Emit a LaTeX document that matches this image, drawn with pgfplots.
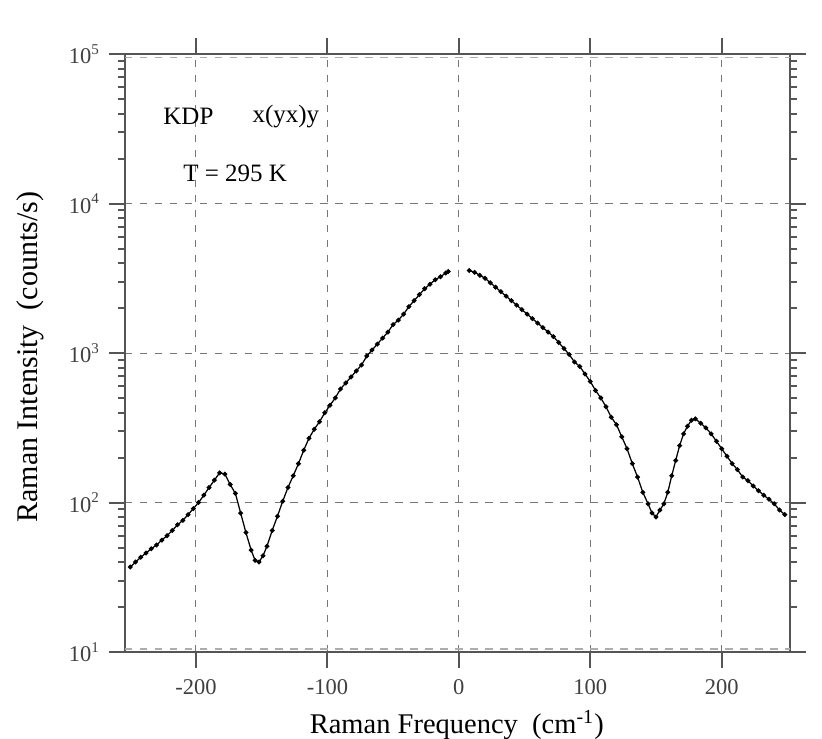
\documentclass[border=0pt]{standalone}
\usepackage{pgfplots}
\pgfplotsset{compat=1.18}
\usepackage{fontspec}
\setmainfont{Liberation Serif}

\definecolor{frame}{HTML}{555555}
\definecolor{gridc}{HTML}{777777}

\begin{document}
\begin{tikzpicture}
\begin{axis}[
    scale only axis,
    width=266pt, height=239.2pt,
    xmin=-254, xmax=252,
    ymode=log, ymin=10, ymax=100000,
    xtick={-200,-100,0,100,200},
    ytick={10,100,1000,10000,100000},
    yticklabels={10\textsuperscript{1},10\textsuperscript{2},10\textsuperscript{3},10\textsuperscript{4},10\textsuperscript{5}},
    /pgf/number format/assume math mode=true,
    tick align=outside,
    major tick length=6.4pt,
    minor tick length=2.8pt,
    tick style={frame, line width=0.8pt},
    axis line style={frame, line width=1pt},
    grid=major,
    major grid style={gridc, dashed, line width=0.4pt},
    ticklabel style={font=\small, text=black!75},
    xticklabel style={yshift=-1pt},
    every axis x label/.style={at={(rel axis cs:0.499,0)}, anchor=base, yshift=-32.4pt, font=\fontsize{11.4}{13}\selectfont},
    every axis y label/.style={at={(rel axis cs:0,0.493)}, anchor=center, xshift=-38pt, rotate=90, font=\fontsize{12}{14}\selectfont},
    xlabel={Raman Frequency\ \ (cm\textsuperscript{-1})},
    ylabel={Raman Intensity\ \ (counts/s)},
]
\coordinate (ll) at (rel axis cs:0,0);
\draw[gridc!60, dashed, line width=0.6pt] ([yshift=-1.3pt]rel axis cs:0,1) -- ([yshift=-1.3pt, xshift=7pt]rel axis cs:1,1);
\draw[gridc!60, dashed, line width=0.6pt] ([yshift=1.3pt]rel axis cs:0,0) -- ([yshift=1.3pt, xshift=7pt]rel axis cs:1,0);
\addplot[black, line width=0.5pt, mark=*, mark size=0.7pt] coordinates {
(-250,37) (-246,40) (-242,43) (-238,46) (-234,49) (-230,52) (-226,56)
(-222,60) (-218,65) (-214,71) (-210,76) (-206,83) (-202,91) (-198,100)
(-194,112) (-190,126) (-186,141) (-182,158) (-178,155) (-174,132)
(-170,115) (-166,85) (-162,63) (-158,48) (-155,41) (-152,40) (-149,44)
(-146,51) (-142,65) (-138,81) (-134,102) (-130,126) (-126,151) (-122,182)
(-118,224) (-114,269) (-110,309) (-106,347) (-102,398) (-98,447)
(-94,501) (-90,575) (-86,631) (-82,692) (-78,759) (-74,832) (-70,955)
(-66,1047) (-62,1148) (-58,1259) (-54,1380) (-50,1549) (-46,1660)
(-42,1820) (-38,2042) (-34,2239) (-30,2455) (-26,2692) (-22,2884)
(-18,3090) (-14,3236) (-10,3428) (-8,3508)
};
\addplot[black, line width=0.5pt, mark=*, mark size=0.7pt] coordinates {
(8,3565) (12,3467) (16,3311) (20,3162) (24,2951) (28,2754) (32,2570)
(36,2399) (40,2239) (44,2089) (48,1950) (52,1820) (56,1698) (60,1585)
(64,1479) (68,1380) (72,1288) (76,1175) (80,1072) (84,977) (88,871)
(92,813) (96,724) (100,646) (104,562) (108,501) (112,437) (116,372)
(120,331) (124,275) (128,229) (132,182) (136,148) (140,117) (144,98)
(147,85) (150,80) (153,89) (156,98) (159,117) (162,151) (165,191)
(168,240) (171,288) (174,324) (177,355) (180,363) (184,339) (188,316)
(192,288) (196,257) (200,229) (204,204) (208,182) (212,166) (216,148)
(220,140) (224,129) (228,120) (232,112) (236,105) (240,98) (244,89)
(248,83)
};
\node[anchor=west, inner sep=0pt] at (rel axis cs:0.057,0.896) {KDP};
\node[anchor=west, inner sep=0pt] at (rel axis cs:0.191,0.896) {x(yx)y};
\node[anchor=west, inner sep=0pt] at (rel axis cs:0.087,0.801) {T = 295 K};
\end{axis}
\pgfresetboundingbox
\path (ll) ++(-50pt,-34.4pt) rectangle ++(328.8pt,295.2pt);
\end{tikzpicture}
\end{document}
